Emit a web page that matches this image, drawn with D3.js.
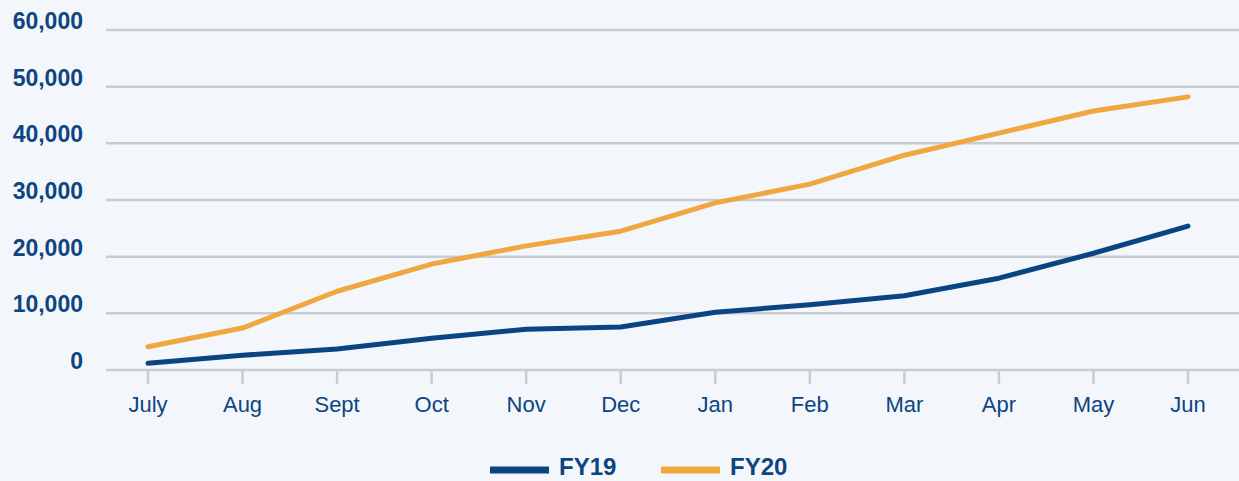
<!DOCTYPE html>
<html>
<head>
<meta charset="utf-8">
<script src="https://cdn.jsdelivr.net/npm/d3@7"></script>
<style>
  body { margin: 0; background: #f3f6fb; }
  svg { display: block; font-family: "Liberation Sans", Arial, sans-serif; }
</style>
</head>
<body>
<svg id="chart"></svg>
<script>
const width = 1239
const height = 481
const months = ['July', 'Aug', 'Sept', 'Oct', 'Nov', 'Dec', 'Jan', 'Feb', 'Mar', 'Apr', 'May', 'Jun']
const fy19 = [1200, 2600, 3700, 5600, 7200, 7600, 10200, 11500, 13100, 16200, 20600, 25400]
const fy20 = [4100, 7400, 13900, 18700, 21900, 24500, 29500, 32800, 37900, 41800, 45700, 48200]
const yTicks = [0, 10000, 20000, 30000, 40000, 50000, 60000]
const seriesNames = ['FY19', 'FY20']
const seriesColors = ['#0b4482', '#f1a73f']
const textColor = '#0d4580'

const svg = d3.select('#chart').attr('width', width).attr('height', height)

const x = d3.scalePoint().domain(months).range([148, 1188])
const y = d3.scaleLinear().domain([0, 60000]).range([370, 30])

// gridlines
svg.selectAll('.grid')
  .data(yTicks)
  .join('line')
  .attr('x1', 106).attr('x2', width)
  .attr('y1', d => y(d)).attr('y2', d => y(d))
  .attr('stroke', '#c9ccd2')
  .attr('stroke-width', 2.5)

// y labels
svg.selectAll('.ylab')
  .data(yTicks)
  .join('text')
  .attr('x', 83)
  .attr('y', d => y(d))
  .attr('dy', '-0.05em')
  .attr('text-anchor', 'end')
  .attr('fill', textColor)
  .style('font-size', '23px')
  .style('font-weight', 'bold')
  .text(d => d3.format(',')(d))

// x axis ticks + labels
const xAxis = svg.append('g')
xAxis.selectAll('line')
  .data(months)
  .join('line')
  .attr('x1', d => x(d)).attr('x2', d => x(d))
  .attr('y1', 370).attr('y2', 384)
  .attr('stroke', '#c9ccd2')
  .attr('stroke-width', 2.5)
xAxis.selectAll('text')
  .data(months)
  .join('text')
  .attr('x', d => x(d))
  .attr('y', 412)
  .attr('text-anchor', 'middle')
  .attr('fill', textColor)
  .style('font-size', '22px')
  .text(d => d)

// lines
const line = d3.line().x((d, i) => x(months[i])).y(d => y(d))
svg.selectAll('.series')
  .data([fy19, fy20])
  .join('path')
  .attr('d', d => line(d))
  .attr('fill', 'none')
  .attr('stroke', (d, i) => seriesColors[i])
  .attr('stroke-width', 5)
  .attr('stroke-linecap', 'round')
  .attr('stroke-linejoin', 'round')

// legend
const legendX = [490, 661]
const legend = svg.selectAll('.legend')
  .data(seriesNames)
  .join('g')
  .attr('transform', (d, i) => `translate(${legendX[i]}, 470)`)
legend.append('line')
  .attr('x1', 0).attr('x2', 59)
  .attr('stroke', (d, i) => seriesColors[i])
  .attr('stroke-width', 7)
legend.append('text')
  .attr('x', 69)
  .attr('y', 5)
  .attr('fill', textColor)
  .style('font-size', '24px')
  .style('font-weight', 'bold')
  .text(d => d)
</script>
</body>
</html>
